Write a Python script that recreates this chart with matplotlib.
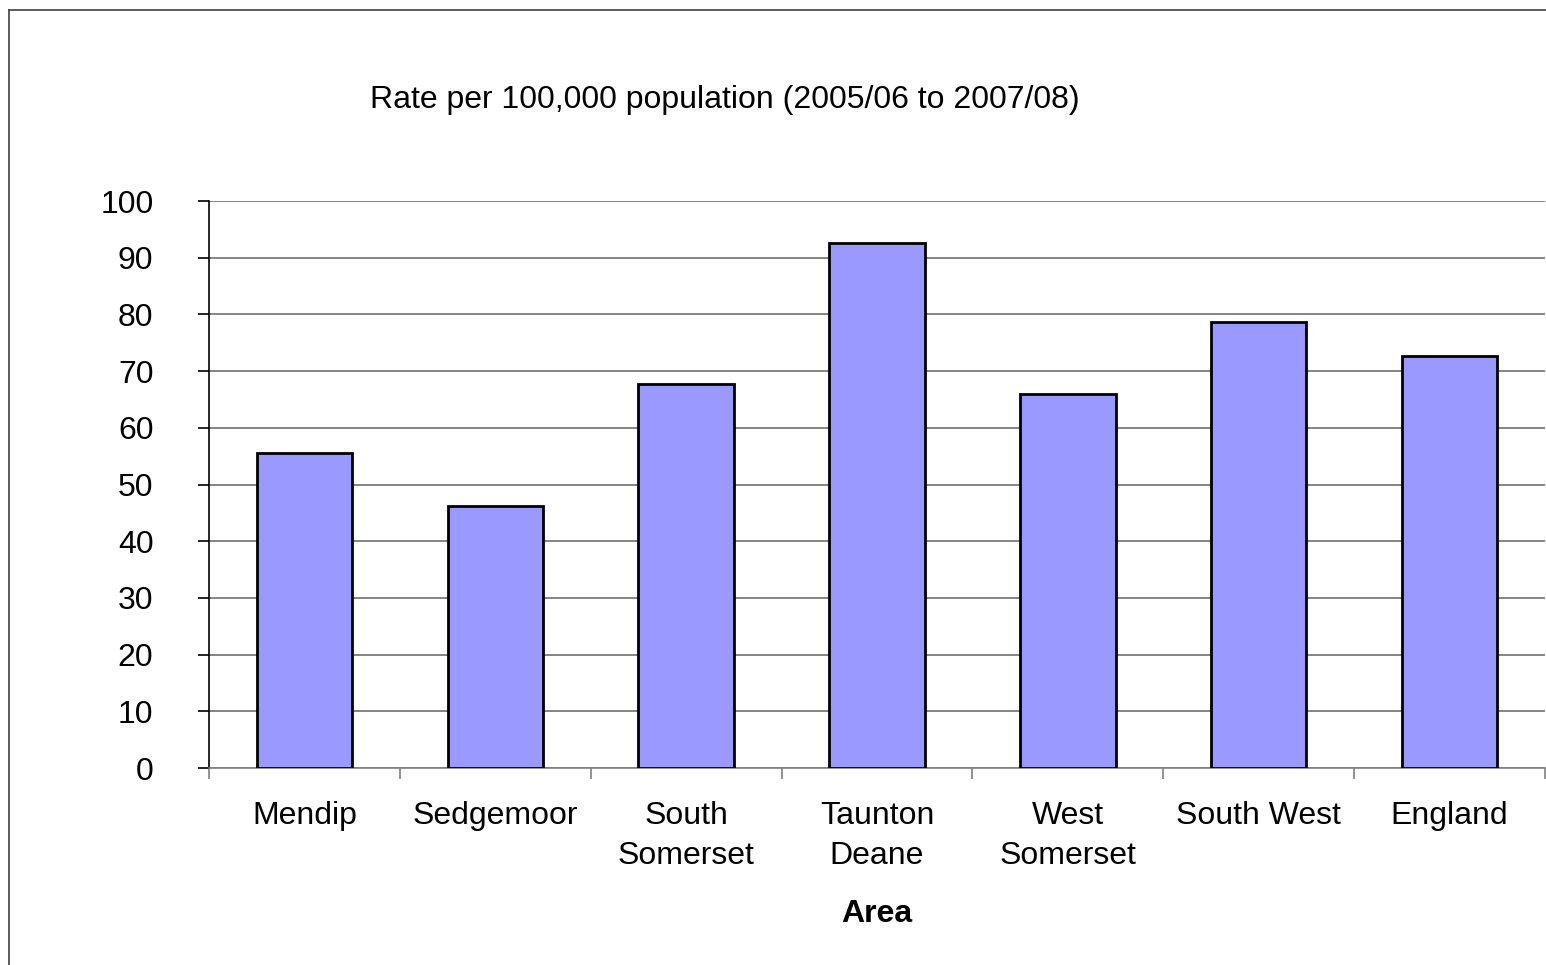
import matplotlib.pyplot as plt
from matplotlib.lines import Line2D

# data
areas = ["Mendip", "Sedgemoor", "South\nSomerset", "Taunton\nDeane",
         "West\nSomerset", "South West", "England"]
rates = [55.5, 46.2, 67.7, 92.6, 65.9, 78.6, 72.6]
y_ticks = [0, 10, 20, 30, 40, 50, 60, 70, 80, 90, 100]

plt.rcParams['font.family'] = ['Liberation Sans', 'DejaVu Sans']

fig = plt.figure(figsize=(15.46, 9.65), dpi=100)
ax = fig.add_axes([0.1352, 0.2041, 0.8642, 0.5876])

x = list(range(len(areas)))
ax.bar(x, rates, width=0.5, color="#9999FF", edgecolor="black", linewidth=2, zorder=3)

ax.set_xlim(-0.5, len(areas) - 0.5)
ax.set_ylim(0, 100)
ax.set_yticks(y_ticks)
ax.yaxis.grid(True, color="#707070", linewidth=1.2, zorder=0)

# category boundary ticks + centred labels
ax.set_xticks([i - 0.5 for i in range(len(areas) + 1)])
ax.set_xticklabels([])
ax.set_xticks(x, minor=True)
ax.set_xticklabels(areas, minor=True, fontsize=23, linespacing=1.42)
ax.tick_params(axis="x", which="major", length=8, width=1.2, color="#808080", direction="out")
ax.tick_params(axis="x", which="minor", length=0, pad=24)
ax.tick_params(axis="y", length=8, width=1.2, labelsize=23, pad=32, direction="out")

for s in ["top", "right"]:
    ax.spines[s].set_visible(False)
ax.spines["bottom"].set_color("#808080")
ax.spines["bottom"].set_linewidth(1.2)
ax.spines["left"].set_linewidth(1.2)

ax.set_xlabel("Area", fontsize=23, fontweight="bold", labelpad=20)
fig.text(0.469, 0.896, "Rate per 100,000 population (2005/06 to 2007/08)",
         fontsize=23, ha="center", va="center")

# outer frame
fx = 9 / 1546
fy = 1 - 10 / 965
fig.add_artist(Line2D([fx, fx], [0, fy], color="#404040", linewidth=1.2))
fig.add_artist(Line2D([fx, 1], [fy, fy], color="#404040", linewidth=1.2))

fig.savefig("out.png", dpi=100)
